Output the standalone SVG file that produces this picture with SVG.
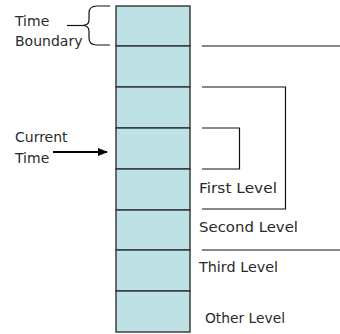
<svg xmlns="http://www.w3.org/2000/svg" width="340" height="334" viewBox="0 0 340 334">
<style>
.cell{fill:#BDE1E4;stroke:#333;stroke-width:1.4}
.lbl{font-family:"DejaVu Sans",sans-serif;font-size:14px;fill:#2a2a2a}
.rl{font-family:"DejaVu Sans",sans-serif;font-size:14.5px;fill:#2a2a2a}
.ln{fill:none;stroke:#111;stroke-width:1.2}
</style>
<defs>
<marker id="ah" markerWidth="10" markerHeight="8" refX="9" refY="4" orient="auto" markerUnits="userSpaceOnUse">
<path d="M0,0 L10,4 L0,8 Z" fill="#000"/>
</marker>
</defs>
<rect width="340" height="334" fill="#fff"/>
<g id="column">
<rect class="cell" x="116" y="6" width="74" height="40"/>
<rect class="cell" x="116" y="46" width="74" height="41"/>
<rect class="cell" x="116" y="87" width="74" height="41"/>
<rect class="cell" x="116" y="128" width="74" height="41"/>
<rect class="cell" x="116" y="169" width="74" height="41"/>
<rect class="cell" x="116" y="210" width="74" height="40"/>
<rect class="cell" x="116" y="250" width="74" height="41"/>
<rect class="cell" x="116" y="291" width="74" height="41"/>
</g>
<g id="time-boundary"><text class="lbl" x="15" y="26">Time</text><text class="lbl" x="15" y="46">Boundary</text></g>
<g id="current-time"><text class="lbl" x="15" y="142">Current</text><text class="lbl" x="15" y="163">Time</text></g>
<g id="first-level"><text class="rl" x="199" y="193" textLength="78" lengthAdjust="spacingAndGlyphs">First Level</text></g>
<g id="second-level"><text class="rl" x="199" y="232" textLength="99" lengthAdjust="spacingAndGlyphs">Second Level</text></g>
<g id="third-level"><text class="rl" x="199" y="272" textLength="79" lengthAdjust="spacingAndGlyphs">Third Level</text></g>
<g id="other-level"><text class="rl" x="205" y="323" textLength="80" lengthAdjust="spacingAndGlyphs">Other Level</text></g>
<g id="connectors">
<path class="ln" d="M110,6 L97,6 Q89,6 89,13 L89,20 Q89,25.5 82,25.5 Q89,25.5 89,31 L89,38 Q89,45 97,45 L110,45"/>
<line class="ln" x1="67" y1="25.5" x2="82" y2="25.5"/>
<line x1="53" y1="152" x2="107" y2="152" stroke="#000" stroke-width="2" marker-end="url(#ah)"/>
<line class="ln" x1="202" y1="46" x2="340" y2="46"/>
<path class="ln" d="M202,87 L285.5,87 L285.5,209 L202,209"/>
<path class="ln" d="M202,128 L239.5,128 L239.5,169 L202,169"/>
<line class="ln" x1="202" y1="250" x2="340" y2="250"/>
</g>
</svg>
